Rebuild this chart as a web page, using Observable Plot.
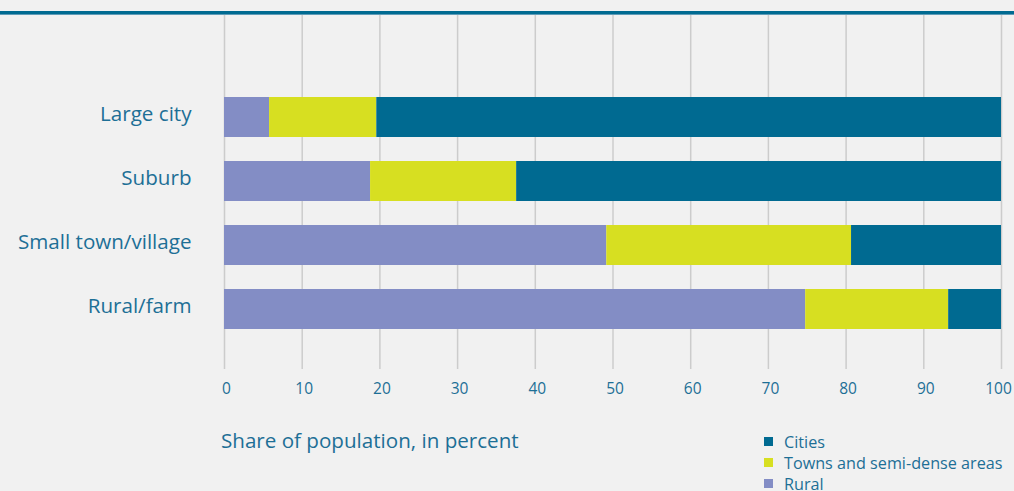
<!DOCTYPE html>
<html>
<head>
<meta charset="utf-8">
<script src="https://cdn.jsdelivr.net/npm/d3@7"></script>
<script src="https://cdn.jsdelivr.net/npm/@observablehq/plot@0.6"></script>
<style>
  html, body { margin: 0; padding: 0; background: #f1f1f1; width: 1014px; height: 491px; overflow: hidden; }
  body { position: relative; font-family: "Open Sans", Lato, sans-serif; color: #1d6f96; }
  #topline { position: absolute; left: 0; top: 11px; width: 1014px; height: 3px; background: #006a91; border-bottom: 1px solid #5f9cb8; }
  #chart { position: absolute; left: 0; top: 0; }
  #xtitle { position: absolute; left: 221px; top: 426px; font-size: 20.6px; color: #1d6f96; white-space: nowrap; }
  #legend { position: absolute; left: 764px; top: 431px; font-size: 16.2px; color: #1d6f96; }
  .li { display: flex; align-items: center; height: 21px; white-space: nowrap; }
  .sw { width: 9px; height: 9px; margin-right: 11px; flex: none; }
</style>
</head>
<body>
<div id="chart"></div>
<div id="topline"></div>
<div id="xtitle"></div>
<div id="legend"></div>
<script>
const categories = ["Large city", "Suburb", "Small town/village", "Rural/farm"];
const rural  = [5.8, 18.8, 49.2, 74.8];
const towns  = [13.8, 18.8, 31.5, 18.4];
const cities = [80.4, 62.4, 19.3, 6.8];
const seriesNames = ["Rural", "Towns and semi-dense areas", "Cities"];
const seriesColors = ["#838dc5", "#d7df21", "#006a91"];
const xTicks = [0, 10, 20, 30, 40, 50, 60, 70, 80, 90, 100];
const xTitle = "Share of population, in percent";
const legendOrder = ["Cities", "Towns and semi-dense areas", "Rural"];

const seriesValues = [rural, towns, cities];
const data = [];
seriesNames.forEach((s, si) => {
  categories.forEach((c, ci) => data.push({category: c, series: s, value: seriesValues[si][ci]}));
});

const innerTicks = xTicks.slice(0, -1);
const lastTick = xTicks.slice(-1);

const chart = Plot.plot({
  width: 1014,
  height: 420,
  marginTop: 14,
  marginBottom: 51,
  marginLeft: 224,
  marginRight: 13,
  style: {background: "transparent", fontFamily: "'Open Sans', Lato, sans-serif", color: "#1d6f96"},
  x: {domain: [0, 100], ticks: xTicks},
  y: {domain: categories, paddingInner: 0.375, paddingOuter: 0.96, align: 0.675},
  color: {domain: seriesNames, range: seriesColors},
  marks: [
    Plot.ruleX(xTicks, {stroke: "#cccccc", strokeWidth: 1.5}),
    Plot.barX(data, Plot.stackX({x: "value", y: "category", fill: "series", order: null})),
    Plot.axisX(innerTicks, {tickSize: 0, tickPadding: 13, fontSize: 15.5, dx: 2, label: null, fill: "#1d6f96"}),
    Plot.axisX(lastTick, {tickSize: 0, tickPadding: 13, fontSize: 15.5, dx: -3, label: null, fill: "#1d6f96"}),
    Plot.axisY({tickSize: 0, tickPadding: 33, fontSize: 20.6, dy: -3, label: null, fill: "#1d6f96"})
  ]
});
document.getElementById("chart").appendChild(chart);

document.getElementById("xtitle").textContent = xTitle;
const legend = document.getElementById("legend");
legendOrder.forEach(name => {
  const row = document.createElement("div");
  row.className = "li";
  const sw = document.createElement("span");
  sw.className = "sw";
  sw.style.background = seriesColors[seriesNames.indexOf(name)];
  const t = document.createElement("span");
  t.textContent = name;
  row.appendChild(sw); row.appendChild(t);
  legend.appendChild(row);
});
</script>
</body>
</html>
